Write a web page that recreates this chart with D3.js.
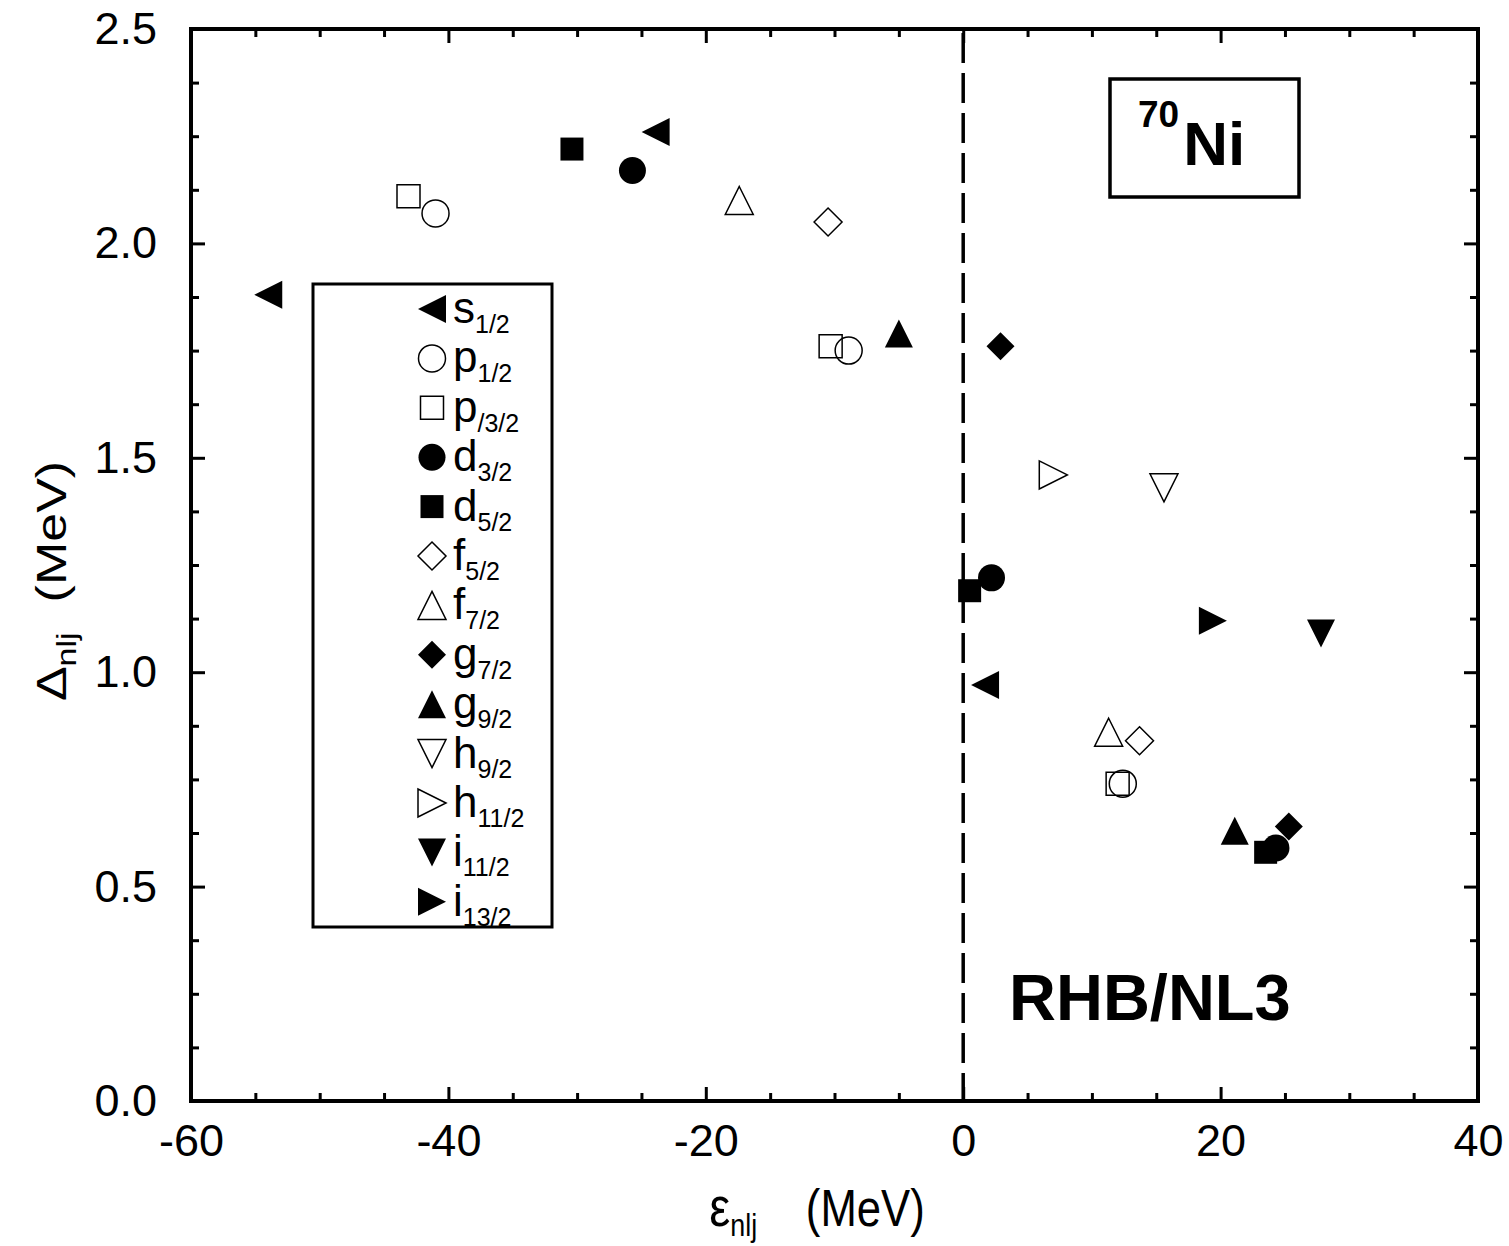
<!DOCTYPE html>
<html>
<head>
<meta charset="utf-8">
<script src="https://cdn.jsdelivr.net/npm/d3@7"></script>
<style>
  html, body { margin: 0; padding: 0; background: #fff; }
  svg { display: block; font-family: "Liberation Sans", Arial, Helvetica, sans-serif; }
</style>
</head>
<body>
<svg id="chart" width="1509" height="1246"></svg>
<script>
// Pairing gaps of 70Ni single-particle levels (RHB/NL3)
// energies eps_nlj (MeV) and gaps Delta_nlj (MeV), one pair of arrays per orbital
const s12E  = [-54.0, -23.9, 1.7];   const s12D  = [1.88, 2.26, 0.97];
const p12E  = [-41.0, -8.9, 12.4];   const p12D  = [2.07, 1.75, 0.74];
const p32E  = [-43.1, -10.3, 12.0];  const p32D  = [2.11, 1.76, 0.74];
const d32E  = [-25.7, 2.2, 24.3];    const d32D  = [2.17, 1.22, 0.59];
const d52E  = [-30.4, 0.5, 23.5];    const d52D  = [2.22, 1.19, 0.58];
const f52E  = [-10.5, 13.7];         const f52D  = [2.05, 0.84];
const f72E  = [-17.4, 11.3];         const f72D  = [2.10, 0.86];
const g72E  = [2.9, 25.3];           const g72D  = [1.76, 0.64];
const g92E  = [-5.0, 21.1];          const g92D  = [1.79, 0.63];
const h92E  = [15.6];                const h92D  = [1.43];
const h112E = [7.0];                 const h112D = [1.46];
const i112E = [27.8];                const i112D = [1.09];
const i132E = [19.4];                const i132D = [1.12];

// legend labels: orbital letter and j subscript
const orbLetters = ["s", "p", "p", "d", "d", "f", "f", "g", "g", "h", "h", "i", "i"];
const orbSubs    = ["1/2", "1/2", "/3/2", "3/2", "5/2", "5/2", "7/2", "7/2", "9/2", "9/2", "11/2", "11/2", "13/2"];

// axis ticks
const xMajor = [-60, -40, -20, 0, 20, 40];
const xMajorLabels = ["-60", "-40", "-20", "0", "20", "40"];
const yMajor = [0, 0.5, 1.0, 1.5, 2.0, 2.5];
const yMajorLabels = ["0.0", "0.5", "1.0", "1.5", "2.0", "2.5"];

// marker style per orbital (same order as labels)
const markerShapes = ["triL", "circle", "square", "circle", "square", "diamond", "triU", "diamond", "triU", "triD", "triR", "triD", "triR"];
const markerFilled = [true, false, false, true, true, false, false, true, true, false, false, true, true];

const seriesE = [s12E, p12E, p32E, d32E, d52E, f52E, f72E, g72E, g92E, h92E, h112E, i112E, i132E];
const seriesD = [s12D, p12D, p32D, d32D, d52D, f52D, f72D, g72D, g92D, h92D, h112D, i112D, i132D];

const svg = d3.select("#chart");
const L = 191, R = 1478, T = 29, B = 1101;

const x = d3.scaleLinear().domain([-60, 40]).range([L, R]);
const y = d3.scaleLinear().domain([0, 2.5]).range([B, T]);

function markerPath(shape) {
  const h = 14;
  switch (shape) {
    case "circle": { const p = d3.path(); p.arc(0, 0, 13.5, 0, 2 * Math.PI); p.closePath(); return p.toString(); }
    case "square": return "M-11.5,-11.5H11.5V11.5H-11.5Z";
    case "diamond": return "M0,-14L14,0L0,14L-14,0Z";
    case "triU": return `M0,${-h}L${h},${h}L${-h},${h}Z`;
    case "triD": return `M0,${h}L${h},${-h}L${-h},${-h}Z`;
    case "triL": return `M${-h},0L${h},${-h}L${h},${h}Z`;
    case "triR": return `M${h},0L${-h},${-h}L${-h},${h}Z`;
  }
}

// minor ticks (inward, all four sides)
const xMinor = d3.range(-60, 40.001, 5).filter(v => !xMajor.includes(v));
const yMinor = d3.range(0, 2.5001, 0.125).map(v => +v.toFixed(3)).filter(v => !yMajor.some(m => Math.abs(m - v) < 1e-6));

function styleAxis(g) {
  g.select(".domain").remove();
  g.selectAll(".tick line").attr("stroke", "#000").attr("stroke-width", 3);
}

// bottom axis with labels
svg.append("g").attr("transform", `translate(0,${B})`)
  .call(d3.axisBottom(x).tickValues(xMajor).tickFormat((d, i) => xMajorLabels[i]).tickSize(-14).tickPadding(23))
  .call(styleAxis)
  .call(g => g.selectAll("text").attr("font-size", 45).attr("fill", "#000").attr("font-family", "Liberation Sans, Arial, sans-serif"));
svg.append("g").attr("transform", `translate(0,${B})`)
  .call(d3.axisBottom(x).tickValues(xMinor).tickFormat("").tickSize(-8)).call(styleAxis);

// top axis (ticks only)
svg.append("g").attr("transform", `translate(0,${T})`)
  .call(d3.axisTop(x).tickValues(xMajor).tickFormat("").tickSize(-14)).call(styleAxis);
svg.append("g").attr("transform", `translate(0,${T})`)
  .call(d3.axisTop(x).tickValues(xMinor).tickFormat("").tickSize(-8)).call(styleAxis);

// left axis with labels
svg.append("g").attr("transform", `translate(${L},0)`)
  .call(d3.axisLeft(y).tickValues(yMajor).tickFormat((d, i) => yMajorLabels[i]).tickSize(-14).tickPadding(34))
  .call(styleAxis)
  .call(g => g.selectAll("text").attr("font-size", 45).attr("fill", "#000").attr("font-family", "Liberation Sans, Arial, sans-serif"));
svg.append("g").attr("transform", `translate(${L},0)`)
  .call(d3.axisLeft(y).tickValues(yMinor).tickFormat("").tickSize(-8)).call(styleAxis);

// right axis (ticks only)
svg.append("g").attr("transform", `translate(${R},0)`)
  .call(d3.axisRight(y).tickValues(yMajor).tickFormat("").tickSize(-14)).call(styleAxis);
svg.append("g").attr("transform", `translate(${R},0)`)
  .call(d3.axisRight(y).tickValues(yMinor).tickFormat("").tickSize(-8)).call(styleAxis);

// frame
svg.append("rect")
  .attr("x", L).attr("y", T).attr("width", R - L).attr("height", B - T)
  .attr("fill", "none").attr("stroke", "#000").attr("stroke-width", 4);

// dashed zero-energy line
svg.append("line")
  .attr("x1", x(0)).attr("x2", x(0)).attr("y1", y(2.5)).attr("y2", y(0))
  .attr("stroke", "#000").attr("stroke-width", 3.5).attr("stroke-dasharray", "30,10")
  .attr("stroke-dashoffset", -4);

// data markers
seriesE.forEach((es, k) => {
  const pts = es.map((e, i) => [e, seriesD[k][i]]);
  svg.append("g").selectAll("path").data(pts).join("path")
    .attr("transform", d => `translate(${x(d[0])},${y(d[1])})`)
    .attr("d", markerPath(markerShapes[k]))
    .attr("fill", markerFilled[k] ? "#000" : "none")
    .attr("stroke", "#000")
    .attr("stroke-width", markerFilled[k] ? 0 : 1.5);
});

// legend
const lg = svg.append("g");
lg.append("rect").attr("x", 313).attr("y", 284).attr("width", 239).attr("height", 643)
  .attr("fill", "none").attr("stroke", "#000").attr("stroke-width", 3);
orbLetters.forEach((letter, i) => {
  const cy = 309 + i * 49.4;
  lg.append("path")
    .attr("transform", `translate(432,${cy})`)
    .attr("d", markerPath(markerShapes[i]))
    .attr("fill", markerFilled[i] ? "#000" : "none")
    .attr("stroke", "#000")
    .attr("stroke-width", markerFilled[i] ? 0 : 1.5);
  const t = lg.append("text").attr("x", 453).attr("y", cy + 14).attr("font-size", 44).attr("fill", "#000");
  t.append("tspan").text(letter);
  t.append("tspan").attr("dy", 10).attr("font-size", 25).text(orbSubs[i]);
});

// nucleus label box
svg.append("rect").attr("x", 1110).attr("y", 79).attr("width", 189).attr("height", 118)
  .attr("fill", "none").attr("stroke", "#000").attr("stroke-width", 3.5);
const nt = svg.append("text").attr("x", 1138).attr("y", 165).attr("font-weight", "bold").attr("fill", "#000");
nt.append("tspan").attr("font-size", 37).attr("dy", -38).text("70");
nt.append("tspan").attr("font-size", 62).attr("dy", 38).attr("dx", 4).text("Ni");

// model label
svg.append("text").attr("x", 1009).attr("y", 1020).attr("font-size", 65).attr("font-weight", "bold")
  .attr("fill", "#000").text("RHB/NL3");

// x-axis title
const xt = svg.append("text")
  .attr("transform", "translate(817,1226) scale(0.84,1)")
  .attr("text-anchor", "middle").attr("font-size", 52).attr("fill", "#000");
xt.append("tspan").attr("font-size", 56).text("ε");
xt.append("tspan").attr("font-size", 32).attr("dy", 10).text("nlj");
xt.append("tspan").attr("dy", -10).attr("dx", 58).text("(MeV)");

// y-axis title
const yt = svg.append("text")
  .attr("transform", "translate(66,581) scale(0.8,1) rotate(-90)")
  .attr("text-anchor", "middle").attr("font-size", 52).attr("fill", "#000");
yt.append("tspan").text("Δ");
yt.append("tspan").attr("font-size", 34).attr("dy", 12).text("nlj");
yt.append("tspan").attr("dy", -12).attr("dx", 30).text("(MeV)");
</script>
</body>
</html>
